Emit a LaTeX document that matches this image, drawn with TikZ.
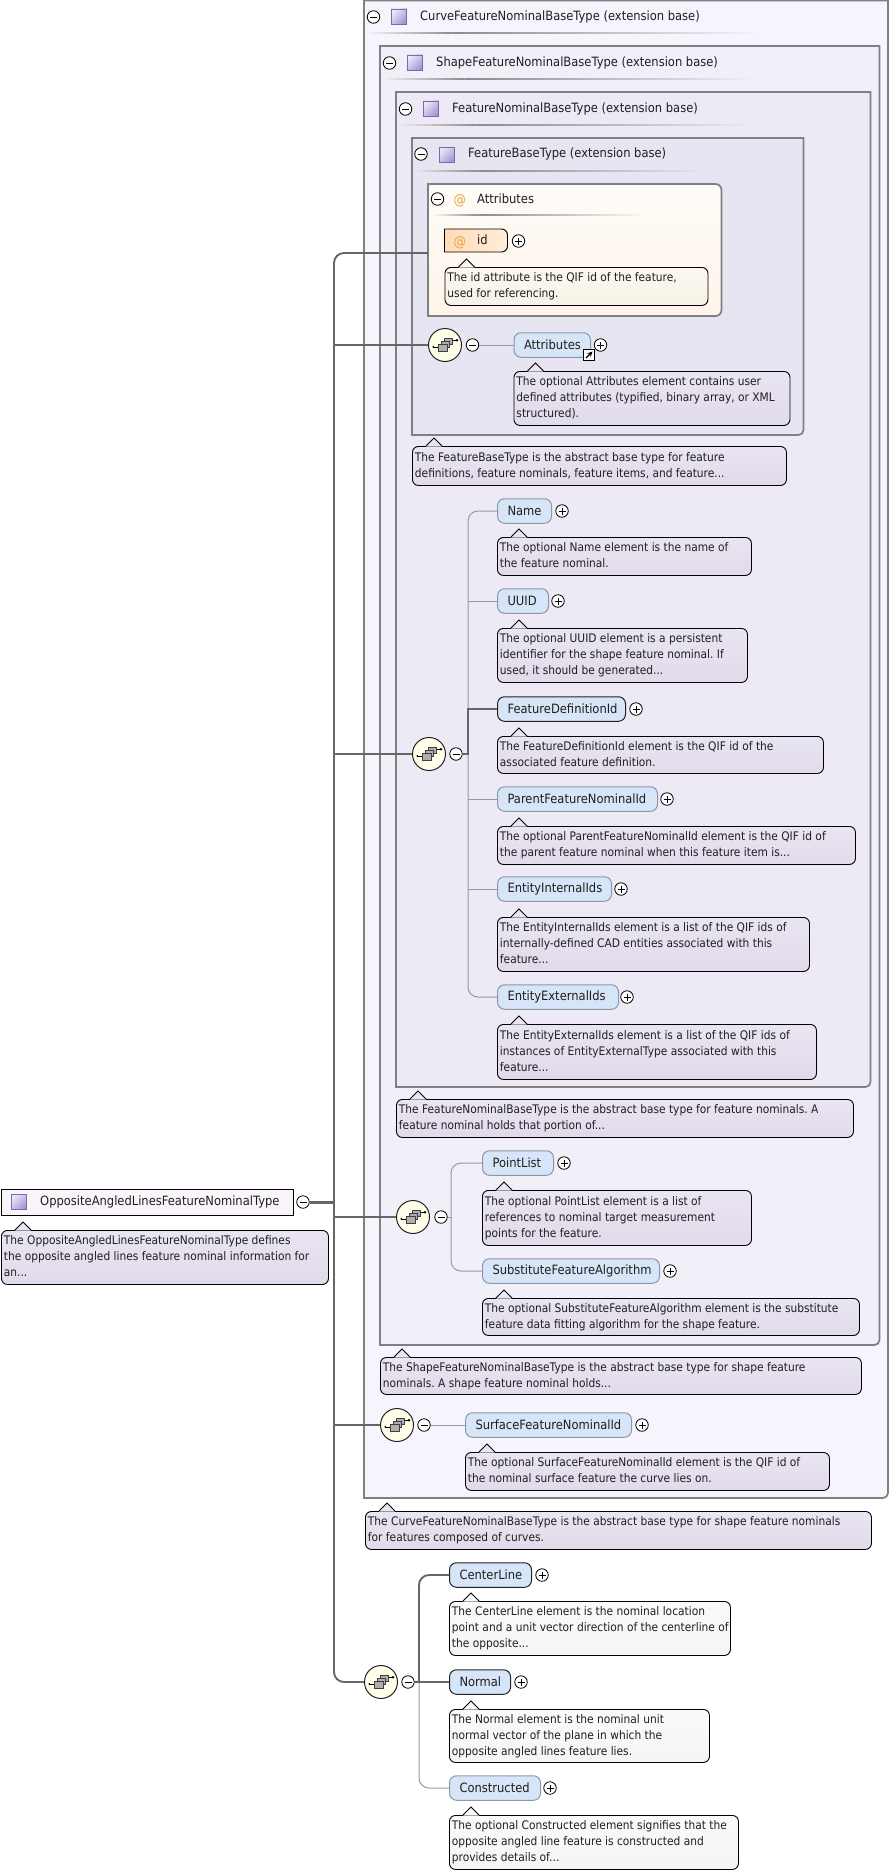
\documentclass[tikz,border=0pt]{standalone}
\usepackage{fontspec}
\setmainfont[FakeStretch=0.9]{DejaVu Sans}
\usetikzlibrary{calc}
\AtBeginDocument{\frenchspacing}
\definecolor{bgA}{HTML}{F6F4FC}
\definecolor{bgB}{HTML}{F1EFF8}
\definecolor{bgC}{HTML}{EDEAF5}
\definecolor{bgD}{HTML}{E8E5F3}
\definecolor{boxln}{HTML}{808080}
\definecolor{connln}{HTML}{666666}
\definecolor{thinln}{HTML}{999999}
\definecolor{elemfill}{HTML}{D7E5F8}
\definecolor{optln}{HTML}{8C98A8}
\definecolor{reqln}{HTML}{222222}
\definecolor{atsign}{HTML}{E8A53C}
\definecolor{notetop}{HTML}{EAE5F2}
\definecolor{notebot}{HTML}{E0DAEA}
\definecolor{creamtop}{HTML}{FBF8F0}
\definecolor{creambot}{HTML}{F6F2E6}
\definecolor{sqlight}{HTML}{EBE7F8}
\definecolor{sqdark}{HTML}{A795D2}
\definecolor{sqline}{HTML}{7B68AE}
\tikzset{
  x=1pt,y=-1pt,
  txt/.style={font=\fontsize{11.83}{16}\selectfont,text=black!88},
  txtb/.style={font=\fontsize{12.8}{16}\selectfont,text=black!88},
  boxbg/.style={draw=boxln,line width=1.7pt},
  elemopt/.style={draw=optln,line width=1pt,fill=elemfill,rounded corners=7pt,inner ysep=0pt,inner xsep=10pt,txtb,align=left},
  elemreq/.style={elemopt,draw=reqln},
  notepurple/.style={draw=black,line width=.9pt,top color=notetop,bottom color=notebot,rounded corners=6pt,inner ysep=0pt,inner xsep=2.5pt,txt,align=left},
  notewhite/.style={notepurple,top color=white!98!black,bottom color=white!96!black},
  notecream/.style={notepurple,top color=creamtop,bottom color=creambot},
  pm/.style={circle,draw=black,fill=white,line width=.8pt,minimum size=12.5pt,inner sep=0pt},
  pmminus/.style={pm,path picture={\draw[line width=.8pt] (path picture bounding box.center) ++(-3.5,0) -- ++(7,0);}},
  pmplus/.style={pm,path picture={\draw[line width=.8pt] (path picture bounding box.center) ++(-3.5,0) -- ++(7,0) ++(-3.5,-3.5) -- ++(0,7);}},
  comp/.style={circle,draw=reqln,line width=1pt,fill=yellow!9!white,minimum size=33pt,inner sep=0pt},
  conn/.style={draw=connln,line width=1.9pt},
  connthin/.style={draw=thinln,line width=1pt},
  connthick/.style={draw=connln,line width=1.9pt},
  hdr/.style={anchor=west,inner sep=0pt,txtb},
  sq/.style={draw=sqline,line width=.8pt,left color=sqlight,right color=sqdark,shading angle=45},
  compicon/.pic={
    \draw[line width=.9pt,black] (-11.7,2) -- (-6.3,2);
    \fill[black] (-11.7,2) circle (1pt);
    \draw[line width=.9pt,black] (7.3,-4.7) -- (11,-4.7);
    \fill[black] (12,-4.7) circle (1.4pt);
    \draw[fill=black!32,draw=black!75,line width=.7pt] (-1,-6.7) rectangle (7.3,-.7);
    \draw[fill=black!32,draw=black!75,line width=.7pt] (-3.7,-4) rectangle (4.7,2);
    \draw[fill=black!32,draw=black!75,line width=.7pt] (-6.3,-.7) rectangle (2.3,6);
  }
}
% {style}{name}{x1}{y1}{x2}{y2}{text}
\newcommand\notebox[7]{%
  \pgfmathsetmacro\nw{#5-#3}\pgfmathsetmacro\nh{#6-#4}\pgfmathsetmacro\ntw{#5-#3-5}%
  \pgfmathsetmacro\pxv{#3+22}%
  \node[#1,anchor=north west,minimum width=\nw pt,minimum height=\nh pt] (#2) at (#3,#4) {\makebox[\ntw pt][l]{\begin{tabular}{@{}l@{}}#7\end{tabular}}};
  \path[fill=#1fill] (\pxv-8,#4+.6) -- (\pxv,#4-8) -- (\pxv+8,#4+.6) -- cycle;
  \draw[line width=.9pt,black] (\pxv-8,#4) -- (\pxv,#4-8) -- (\pxv+8,#4);
}
\colorlet{notepurplefill}{notetop}
\colorlet{notewhitefill}{white!98!black}
\colorlet{notecreamfill}{creamtop}
% {style}{name}{x1}{ycenter}{x2}{text}
\newcommand\elem[6]{%
  \pgfmathsetmacro\ew{#5-#3}\pgfmathsetmacro\etw{#5-#3-20}%
  \node[#1,anchor=west,minimum width=\ew pt,minimum height=24.5pt,text width=\etw pt] (#2) at (#3,#4) {#6};
}
\newcommand\sqicon[2]{\shade[sq] (#1,#2) rectangle ++(15.5,15.5); }
\newcommand\hdrline[4]{% x1 x2 y bg
  \pgfmathsetmacro\hm{#1+0.22*(#2-#1)}%
  \shade[left color=#4,right color=black!45] (#1,#3-.8) rectangle (\hm,#3+.8);
  \shade[left color=black!45,right color=#4] (\hm,#3-.8) rectangle (#2,#3+.8);
}
\begin{document}
\begin{tikzpicture}
\useasboundingbox (0,0) rectangle (890,1873);
\fill[white] (0,0) rectangle (890,1873);
% nested boxes
\draw[boxbg,fill=bgA] (364,.5) -- (888,.5) [rounded corners=5pt] -- (888,1498) [sharp corners] -- (364,1498) -- cycle;
\draw[boxbg,fill=bgB] (380,46) -- (879.5,46) [rounded corners=5pt] -- (879.5,1345) [sharp corners] -- (380,1345) -- cycle;
\draw[boxbg,fill=bgC] (396,92) -- (870.5,92) [rounded corners=5pt] -- (870.5,1087) [sharp corners] -- (396,1087) -- cycle;
\draw[boxbg,fill=bgD] (412,138) -- (803.5,138) [rounded corners=5pt] -- (803.5,435) [sharp corners] -- (412,435) -- cycle;
\draw[boxbg,top color=white!97!orange,bottom color=white!92!orange] (428,184) [rounded corners=6pt] -- (721.5,184) -- (721.5,316) [sharp corners] -- (428,316) -- cycle;
% headers
\node[pmminus] (mA) at (373.5,17) {}; \sqicon{391}{9} \node[hdr] (tA) at (420,17) {CurveFeatureNominalBaseType (extension base)};
\hdrline{366}{759}{33}{bgA}
\node[pmminus] (mB) at (389.5,63) {}; \sqicon{407}{55} \node[hdr] (tB) at (436,63) {ShapeFeatureNominalBaseType (extension base)};
\hdrline{382}{758}{79}{bgB}
\node[pmminus] (mC) at (405.5,109) {}; \sqicon{423}{101} \node[hdr] (tC) at (452,109) {FeatureNominalBaseType (extension base)};
\hdrline{398}{754}{125}{bgC}
\node[pmminus] (mD) at (421,154) {}; \sqicon{439}{147} \node[hdr] (tD) at (468,154) {FeatureBaseType (extension base)};
\hdrline{414}{708}{171}{bgD}
\node[pmminus] (mE) at (437.5,199) {};
\node[hdr,text=atsign,font=\fontsize{14}{16}\selectfont] (atE) at (453.5,201) {@};
\node[hdr] (tE) at (477,199) {Attributes};
\hdrline{431}{648}{215}{white!97!orange}
% id attribute
\draw[draw=black,line width=.9pt,left color=white!72!orange,right color=white!85!orange] (444.5,229) [rounded corners=6pt] -- (507.5,229) -- (507.5,252) [sharp corners] -- (444.5,252) -- cycle;
\node[hdr,text=atsign,font=\fontsize{14}{16}\selectfont] (atid) at (453.5,243) {@};
\node[hdr] (idlbl) at (477,240) {id};
\node[pmplus] (pid) at (518.5,241) {};
\notebox{notecream}{nid}{444.5}{267}{707.5}{305}{The id attribute is the QIF id of the feature,\\used for referencing.}
% Attributes element
\elem{elemopt}{eAttr}{513.5}{345}{590}{Attributes}
\node[pmplus] (pAttr) at (600.5,345) {};
\node[draw=black,fill=white,minimum size=11.5pt,inner sep=0pt,line width=.8pt,path picture={\draw[line width=1.3pt,-stealth] (path picture bounding box.center) ++(-3,3) -- ++(6.5,-6.5);}] (lAttr) at (589,355) {};
\notebox{notepurple}{nAttr}{513.5}{371}{789.5}{425}{The optional Attributes element contains user\\defined attributes (typified, binary array, or XML\\structured).}
\notebox{notepurple}{nFB}{412}{446}{786}{485}{The FeatureBaseType is the abstract base type for feature\\definitions, feature nominals, feature items, and feature...}
% FeatureNominal elements
\elem{elemopt}{eName}{497}{511}{551}{Name}
\node[pmplus] (pName) at (562,511) {};
\notebox{notepurple}{nName}{497}{537}{751}{575}{The optional Name element is the name of\\the feature nominal.}
\elem{elemopt}{eUUID}{497}{601}{548}{UUID}
\node[pmplus] (pUUID) at (558,601) {};
\notebox{notepurple}{nUUID}{497}{628}{747}{682}{The optional UUID element is a persistent\\identifier for the shape feature nominal. If\\used, it should be generated...}
\elem{elemreq}{eFD}{497}{709}{625}{FeatureDefinitionId}
\node[pmplus] (pFD) at (636,709) {};
\notebox{notepurple}{nFD}{497}{736}{823}{773}{The FeatureDefinitionId element is the QIF id of the\\associated feature definition.}
\elem{elemopt}{ePF}{497}{799}{657}{ParentFeatureNominalId}
\node[pmplus] (pPF) at (667,799) {};
\notebox{notepurple}{nPF}{497}{826}{855}{864}{The optional ParentFeatureNominalId element is the QIF id of\\the parent feature nominal when this feature item is...}
\elem{elemopt}{eEI}{497}{889}{611}{EntityInternalIds}
\node[pmplus] (pEI) at (621,889) {};
\notebox{notepurple}{nEI}{497}{917}{809}{971}{The EntityInternalIds element is a list of the QIF ids of\\internally-defined CAD entities associated with this\\feature...}
\elem{elemopt}{eEE}{497}{997}{618}{EntityExternalIds}
\node[pmplus] (pEE) at (627,997) {};
\notebox{notepurple}{nEE}{497}{1024}{816}{1079}{The EntityExternalIds element is a list of the QIF ids of\\instances of EntityExternalType associated with this\\feature...}
\notebox{notepurple}{nFN}{396}{1099}{853}{1137}{The FeatureNominalBaseType is the abstract base type for feature nominals. A\\feature nominal holds that portion of...}
% Shape elements
\elem{elemopt}{ePL}{482}{1163}{553}{PointList}
\node[pmplus] (pPL) at (564,1163) {};
\notebox{notepurple}{nPL}{482}{1190}{751}{1245}{The optional PointList element is a list of\\references to nominal target measurement\\points for the feature.}
\elem{elemopt}{eSF}{482}{1271}{659}{SubstituteFeatureAlgorithm}
\node[pmplus] (pSF) at (670,1271) {};
\notebox{notepurple}{nSF}{482}{1298}{859}{1335}{The optional SubstituteFeatureAlgorithm element is the substitute\\feature data fitting algorithm for the shape feature.}
\notebox{notepurple}{nSN}{380}{1357}{861}{1394}{The ShapeFeatureNominalBaseType is the abstract base type for shape feature\\nominals. A shape feature nominal holds...}
% Surface
\elem{elemopt}{eSU}{465}{1425}{631}{SurfaceFeatureNominalId}
\node[pmplus] (pSU) at (642,1425) {};
\notebox{notepurple}{nSU}{465}{1452}{829}{1490}{The optional SurfaceFeatureNominalId element is the QIF id of\\the nominal surface feature the curve lies on.}
\notebox{notepurple}{nCN}{365}{1511}{871}{1549}{The CurveFeatureNominalBaseType is the abstract base type for shape feature nominals\\for features composed of curves.}
% Own elements
\elem{elemreq}{eCL}{449}{1575}{531}{CenterLine}
\node[pmplus] (pCL) at (542,1575) {};
\notebox{notewhite}{nCL}{449}{1601}{730}{1655}{The CenterLine element is the nominal location\\point and a unit vector direction of the centerline of\\the opposite...}
\elem{elemreq}{eNO}{449}{1682}{510}{Normal}
\node[pmplus] (pNO) at (521,1682) {};
\notebox{notewhite}{nNO}{449}{1709}{709}{1762}{The Normal element is the nominal unit\\normal vector of the plane in which the\\opposite angled lines feature lies.}
\elem{elemopt}{eCO}{449}{1788}{540}{Constructed}
\node[pmplus] (pCO) at (550,1788) {};
\notebox{notewhite}{nCO}{449}{1815}{738}{1869}{The optional Constructed element signifies that the\\opposite angled line feature is constructed and\\provides details of...}
% compositors
\node[comp] (c1) at (445,345) {}; \pic at (c1) {compicon}; \node[pmminus] (mc1) at (472.5,345) {};
\node[comp] (c2) at (429,754) {}; \pic at (c2) {compicon}; \node[pmminus] (mc2) at (456,754) {};
\node[comp] (c3) at (413,1217) {}; \pic at (c3) {compicon}; \node[pmminus] (mc3) at (441,1217) {};
\node[comp] (c4) at (397,1425) {}; \pic at (c4) {compicon}; \node[pmminus] (mc4) at (424,1425) {};
\node[comp] (c5) at (381,1682) {}; \pic at (c5) {compicon}; \node[pmminus] (mc5) at (408,1682) {};
% root
\node[draw=black,line width=1pt,fill=white!96!violet,anchor=north west,minimum width=292pt,minimum height=26pt] (root) at (.5,1189) {};
\sqicon{11}{1194}
\node[hdr] (rootlbl) at (40,1202) {OppositeAngledLinesFeatureNominalType};
\node[pmminus] (mroot) at (303,1202) {};
\notebox{notepurple}{nroot}{1}{1230}{328}{1284}{The OppositeAngledLinesFeatureNominalType defines\\the opposite angled lines feature nominal information for\\an...}
% connectors
\coordinate (tTop) at (334,253);
\coordinate (tBot) at (334,1682);
\coordinate (tRoot) at (334,1202);
\coordinate (aport) at (428,253);
\draw[connthick,line width=3pt] (mroot) -- (tRoot);
\draw[conn,rounded corners=10pt] (aport) -- (tTop) -- (tBot) -- (c5.west);
\draw[conn] (tTop |- c1) -- (c1.west);
\draw[conn] (tTop |- c2) -- (c2.west);
\draw[conn] (tTop |- c3) -- (c3.west);
\draw[conn] (tTop |- c4) -- (c4.west);
\draw[connthin] (mc1) -- (eAttr.west);
\draw[connthin] (mc4) -- (eSU.west);
\coordinate (b2) at (468,754);
\draw[connthin,rounded corners=10pt] (eName.west) -- (b2 |- eName) -- (b2 |- eEE) -- (eEE.west);
\draw[connthin] (b2 |- eUUID) -- (eUUID.west);
\draw[connthin] (b2 |- ePF) -- (ePF.west);
\draw[connthin] (b2 |- eEI) -- (eEI.west);
\draw[connthick] (mc2) -- (b2) -- (b2 |- eFD) -- (eFD.west);
\coordinate (b3) at (451,1217);
\draw[connthin,rounded corners=10pt] (ePL.west) -- (b3 |- ePL) -- (b3 |- eSF) -- (eSF.west);
\draw[connthin] (mc3) -- (b3);
\coordinate (b5) at (419,1682);
\draw[connthin,rounded corners=10pt] (b5) -- (b5 |- eCO) -- (eCO.west);
\draw[connthick,rounded corners=10pt] (b5) -- (b5 |- eCL) -- (eCL.west);
\draw[connthick] (mc5) -- (eNO.west);
\end{tikzpicture}
\end{document}
